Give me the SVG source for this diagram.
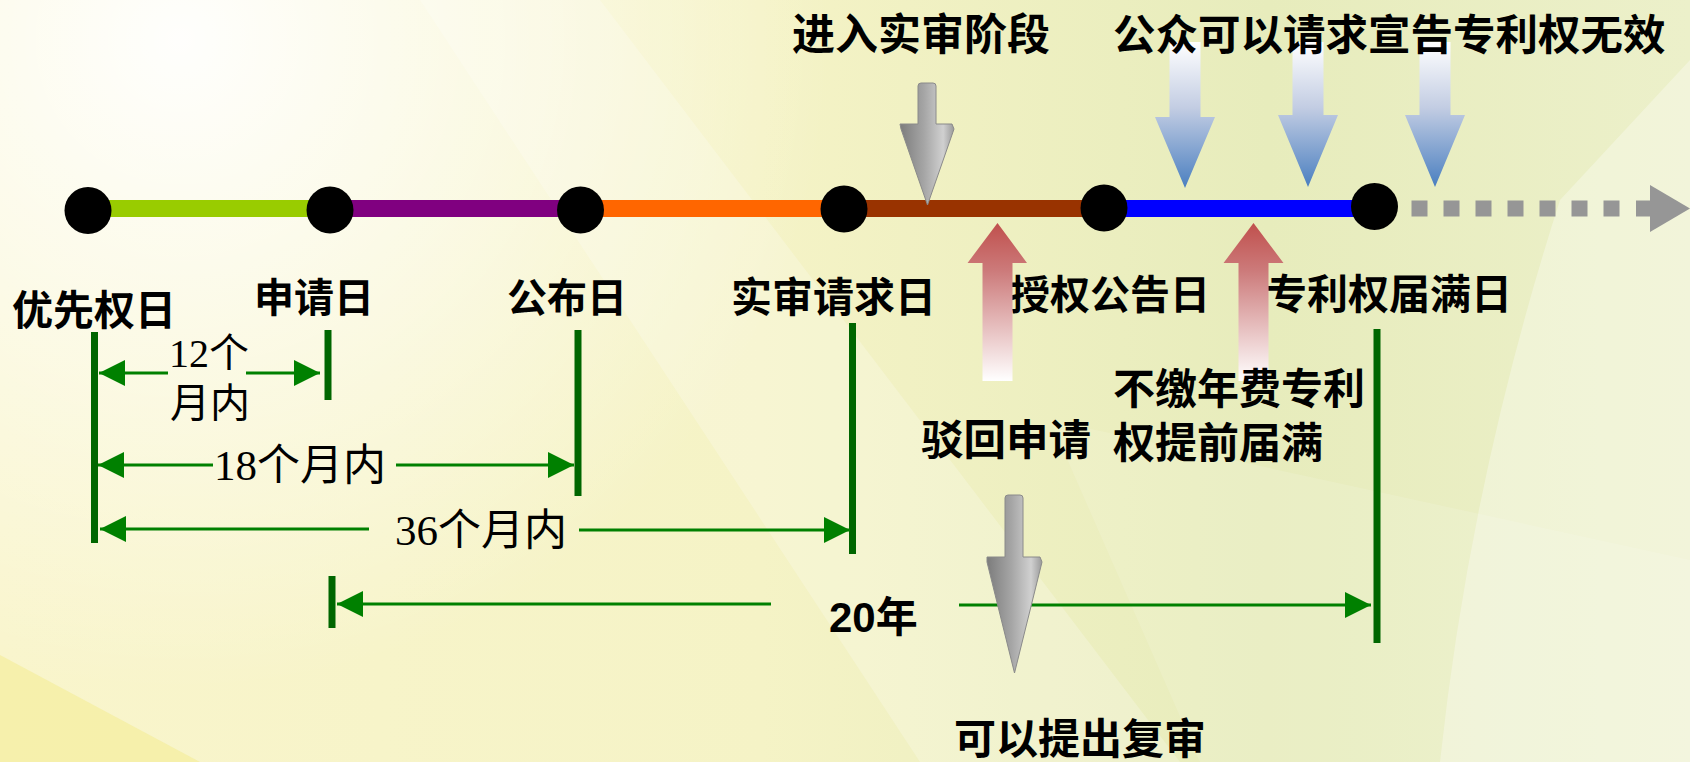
<svg xmlns="http://www.w3.org/2000/svg" width="1690" height="762" viewBox="0 0 1690 762">
<defs>
  <linearGradient id="bg" x1="0" y1="0" x2="1" y2="0">
    <stop offset="0" stop-color="#F9F5CC"/>
    <stop offset="0.45" stop-color="#F5F3C6"/>
    <stop offset="0.75" stop-color="#E7ECBC"/>
    <stop offset="1" stop-color="#ECF0CA"/>
  </linearGradient>
  <radialGradient id="glow" cx="180" cy="40" r="650" gradientUnits="userSpaceOnUse">
    <stop offset="0" stop-color="#FFFFFF" stop-opacity="0.95"/>
    <stop offset="0.5" stop-color="#FFFFFF" stop-opacity="0.5"/>
    <stop offset="1" stop-color="#FFFFFF" stop-opacity="0"/>
  </radialGradient>
  <linearGradient id="grey" x1="0" y1="0" x2="1" y2="0">
    <stop offset="0" stop-color="#7C7C7C"/>
    <stop offset="0.45" stop-color="#A6A6A6"/>
    <stop offset="0.8" stop-color="#D0D0D0"/>
    <stop offset="1" stop-color="#9A9A9A"/>
  </linearGradient>
  <linearGradient id="blue" x1="0" y1="0" x2="0" y2="1">
    <stop offset="0" stop-color="#FFFFFF"/>
    <stop offset="0.45" stop-color="#C3CDE3"/>
    <stop offset="1" stop-color="#4A7FC0"/>
  </linearGradient>
  <linearGradient id="red" x1="0" y1="0" x2="0" y2="1">
    <stop offset="0" stop-color="#C0504D"/>
    <stop offset="0.3" stop-color="#CC7A7A"/>
    <stop offset="1" stop-color="#FFFFFF"/>
  </linearGradient>
  <marker id="ah" markerUnits="userSpaceOnUse" markerWidth="26" markerHeight="26" viewBox="0 0 26 26" refX="26" refY="13" orient="auto">
    <path d="M0,0 L26,13 L0,26 Z" fill="#008000"/>
  </marker>
  <style>
    .lbl { font-family: "Noto Sans CJK SC", "Liberation Sans", sans-serif; font-weight: bold; fill: #000; }
    .dim { font-family: "Liberation Serif", "Noto Sans CJK SC", serif; font-weight: normal; fill: #000; }
    .yr { font-family: "Liberation Sans", "Noto Sans CJK SC", sans-serif; font-weight: bold; fill: #000; }
    .seg { stroke-width: 17; fill: none; }
    .dot { fill: #000; }
    .tick { stroke: #006600; stroke-width: 7; fill: none; }
    .dl { stroke: #008000; stroke-width: 3; fill: none; marker-end: url(#ah); }
    .sq { fill: #969696; }
  </style>
</defs>

<g id="background">
  <rect x="0" y="0" width="1690" height="762" fill="url(#bg)"/>
  <rect x="0" y="0" width="1690" height="762" fill="url(#glow)"/>
  <polygon points="0,655 0,762 200,762" fill="#F3EB8C" opacity="0.5"/>
  <polygon points="420,0 600,0 1180,762 920,762" fill="#FFFFFF" opacity="0.22"/>
  <path d="M1560,200 Q1470,480 1440,762 L1690,762 L1690,60 Z" fill="#FFFFFF" opacity="0.3"/>
  <path d="M1050,420 L1690,560 L1690,762 L1200,762 Z" fill="#FFFFFF" opacity="0.12"/>
</g>

<g id="connectors">
  <line class="seg" x1="88" y1="208.5" x2="330" y2="208.5" stroke="#99CC00"/>
  <line class="seg" x1="330" y1="208.5" x2="580" y2="208.5" stroke="#800080"/>
  <line class="seg" x1="580" y1="208.5" x2="844" y2="208.5" stroke="#FF6600"/>
  <line class="seg" x1="844" y1="208.5" x2="1104" y2="208.5" stroke="#993300"/>
  <line class="seg" x1="1104" y1="208.5" x2="1374" y2="208.5" stroke="#0000FF"/>
  <g id="future">
    <rect class="sq" x="1411.5" y="200.5" width="16" height="16"/>
    <rect class="sq" x="1443.5" y="200.5" width="16" height="16"/>
    <rect class="sq" x="1475.5" y="200.5" width="16" height="16"/>
    <rect class="sq" x="1507.5" y="200.5" width="16" height="16"/>
    <rect class="sq" x="1539.5" y="200.5" width="16" height="16"/>
    <rect class="sq" x="1571.5" y="200.5" width="16" height="16"/>
    <rect class="sq" x="1603.5" y="200.5" width="16" height="16"/>
    <rect class="sq" x="1636" y="200.5" width="15" height="16"/>
    <polygon class="sq" points="1650,185 1690,208.5 1650,232"/>
  </g>
  <line class="tick" x1="94.5" y1="332" x2="94.5" y2="543"/>
  <line class="tick" x1="328" y1="330" x2="328" y2="400"/>
  <line class="tick" x1="578" y1="330" x2="578" y2="496"/>
  <line class="tick" x1="852.5" y1="323" x2="852.5" y2="554"/>
  <line class="tick" x1="332" y1="576" x2="332" y2="628"/>
  <line class="tick" x1="1377" y1="329" x2="1377" y2="643"/>
  <line class="dl" x1="168" y1="373" x2="99" y2="373"/>
  <line class="dl" x1="246" y1="373" x2="320" y2="373"/>
  <line class="dl" x1="213" y1="465" x2="98" y2="465"/>
  <line class="dl" x1="396" y1="465" x2="574" y2="465"/>
  <line class="dl" x1="369" y1="529" x2="100" y2="529"/>
  <line class="dl" x1="579" y1="530" x2="850" y2="530"/>
  <line class="dl" x1="771" y1="604" x2="337" y2="604"/>
  <line class="dl" x1="959" y1="605" x2="1371" y2="605"/>
</g>

<g id="node-priority"><circle class="dot" cx="88" cy="210.5" r="23.5"/><text class="lbl" x="12" y="325" font-size="41">优先权日</text></g>
<g id="node-filing"><circle class="dot" cx="330" cy="210" r="23.5"/><text class="lbl" x="254" y="312" font-size="40">申请日</text></g>
<g id="node-publication"><circle class="dot" cx="580.5" cy="210" r="23.5"/><text class="lbl" x="507" y="312" font-size="40">公布日</text></g>
<g id="node-exam-request"><circle class="dot" cx="844" cy="209" r="23.5"/><text class="lbl" x="731" y="312" font-size="41">实审请求日</text></g>
<g id="node-grant"><circle class="dot" cx="1104" cy="208" r="23.5"/><text class="lbl" x="1010" y="309" font-size="40">授权公告日</text></g>
<g id="node-expiry"><circle class="dot" cx="1374.5" cy="206.5" r="23.5"/><text class="lbl" x="1266" y="309" font-size="41">专利权届满日</text></g>

<g id="enter-exam">
  <path d="M918,86 Q918,83 921,83 L933,83 Q936,83 936,86 L936,124 L952,124 L954,129 L927.5,205 L901,129 L900,124 L918,124 Z" fill="url(#grey)" stroke="#8A8A8A" stroke-width="1"/>
  <text class="lbl" x="792" y="50" font-size="43">进入实审阶段</text>
</g>

<g id="invalidation">
  <path d="M1169.5,42 L1200.5,42 L1200.5,117 L1215,117 L1185,188 L1155,117 L1169.5,117 Z" fill="url(#blue)"/>
  <path d="M1292.5,42 L1323.5,42 L1323.5,115 L1338,115 L1308,187 L1278,115 L1292.5,115 Z" fill="url(#blue)"/>
  <path d="M1419.5,42 L1450.5,42 L1450.5,115 L1465,115 L1435,187 L1405,115 L1419.5,115 Z" fill="url(#blue)"/>
  <text class="lbl" x="1113" y="50" font-size="42.5">公众可以请求宣告专利权无效</text>
</g>

<g id="reject">
  <path d="M997.5,223 L1027,263 L1012.5,263 L1012.5,381 L982.5,381 L982.5,263 L967.5,263 Z" fill="url(#red)"/>
  <text class="lbl" x="921" y="455" font-size="42.5">驳回申请</text>
</g>

<g id="early-expiry">
  <path d="M1253.5,223 L1283.5,263 L1268.5,263 L1268.5,381 L1238.5,381 L1238.5,263 L1223.5,263 Z" fill="url(#red)"/>
  <text class="lbl" x="1113" y="404" font-size="42">不缴年费专利</text>
  <text class="lbl" x="1113" y="458" font-size="42">权提前届满</text>
</g>

<g id="reexam">
  <path d="M1005,498 Q1005,495 1008,495 L1020,495 Q1023,495 1023,498 L1023,557 L1040,557 L1042,562 L1014.5,673 L987,562 L987,557 L1005,557 Z" fill="url(#grey)" stroke="#8A8A8A" stroke-width="1"/>
  <text class="lbl" x="954" y="754" font-size="42">可以提出复审</text>
</g>

<g id="labels">
  <text class="dim" x="169" y="367" font-size="40">12个</text>
  <text class="dim" x="170" y="417" font-size="40">月内</text>
  <text class="dim" x="214" y="480" font-size="43">18个月内</text>
  <text class="dim" x="395" y="545" font-size="43">36个月内</text>
  <text class="yr" x="829" y="632" font-size="42">20年</text>
</g>
</svg>
